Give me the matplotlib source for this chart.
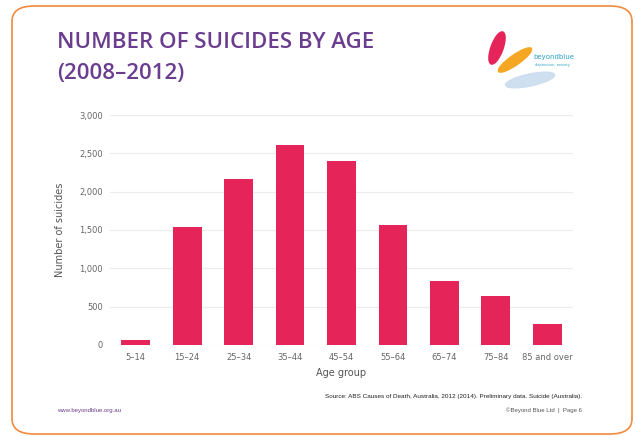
import matplotlib.pyplot as plt
from matplotlib.patches import FancyBboxPatch, Ellipse
from matplotlib.ticker import FuncFormatter

age_groups = ['5–14', '15–24', '25–34', '35–44', '45–54', '55–64',
              '65–74', '75–84', '85 and over']
suicides = [60, 1540, 2170, 2615, 2400, 1560, 835, 640, 280]
y_ticks = [0, 500, 1000, 1500, 2000, 2500, 3000]

W, H = 635, 436
fig = plt.figure(figsize=(W / 100, H / 100), dpi=100)
fig.patch.set_facecolor('white')

# orange rounded frame
frame = FancyBboxPatch((12 / W, 2 / H), (632 - 12) / W, (H - 6 - 2) / H,
                       boxstyle='round,pad=0,rounding_size=0.035',
                       transform=fig.transFigure, fill=False,
                       edgecolor='#f08a3c', linewidth=1.2, clip_on=False)
fig.patches.append(frame)

purple = '#6a3d8f'
fig.text(57 / W, 1 - 42 / H, 'NUMBER OF SUICIDES BY AGE', fontsize=16,
         fontweight='semibold', color=purple, family='Open Sans', va='center')
fig.text(57 / W, 1 - 73 / H, '(2008–2012)', fontsize=16,
         fontweight='semibold', color=purple, family='Open Sans', va='center')

# logo
lg = fig.add_axes([475 / W, 1 - 100 / H, 100 / W, 80 / H])
lg.set_xlim(0, 100)
lg.set_ylim(0, 80)
lg.axis('off')
lg.add_patch(Ellipse((55, 20), 50, 12, angle=12, color='#c9dcef', alpha=0.9))
lg.add_patch(Ellipse((22, 52), 12, 34, angle=-20, color='#e5255a'))
lg.add_patch(Ellipse((40, 40), 10, 40, angle=-55, color='#f5a623'))
lg.text(58, 43, 'beyondblue', fontsize=5, color='#2aa3c4', va='center')
lg.text(60, 35, 'depression. anxiety', fontsize=2.5, color='#2aa3c4', va='center')

ax = fig.add_axes([110 / W, 1 - 345 / H, (573 - 110) / W, (345 - 115) / H])
ax.bar(range(len(age_groups)), suicides, width=0.56, color='#e5255a', zorder=2)
ax.set_xlim(-0.5, len(age_groups) - 0.5)
ax.set_ylim(0, 3000)
ax.set_yticks(y_ticks)
ax.yaxis.set_major_formatter(FuncFormatter(lambda v, p: f'{int(v):,}'))
ax.set_xticks(range(len(age_groups)))
ax.set_xticklabels(age_groups)
ax.grid(axis='y', color='#ececec', linewidth=0.8, zorder=0)
for s in ax.spines.values():
    s.set_visible(False)
ax.tick_params(length=0, labelsize=6, labelcolor='#666666', pad=6)
ax.tick_params(axis='y', pad=5)
ax.set_xlabel('Age group', fontsize=7, color='#555555', labelpad=4)
ax.set_ylabel('Number of suicides', fontsize=7, color='#555555', labelpad=10)

fig.text(582 / W, 1 - 396 / H,
         'Source: ABS Causes of Death, Australia, 2012 (2014). Preliminary data. Suicide (Australia).',
         fontsize=4.6, color='#222222', ha='right', va='center', family='Liberation Sans')
fig.text(57 / W, 1 - 410 / H, 'www.beyondblue.org.au', fontsize=4.3,
         color=purple, ha='left', va='center', family='Liberation Sans')
fig.text(582 / W, 1 - 410 / H, '©Beyond Blue Ltd  |  Page 6', fontsize=4.3,
         color='#555555', ha='right', va='center', family='Liberation Sans')

fig.savefig('out.png', dpi=100)
